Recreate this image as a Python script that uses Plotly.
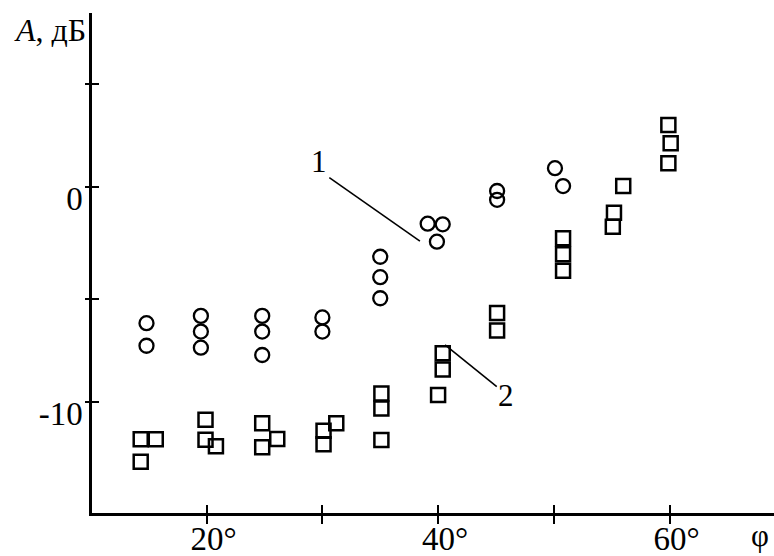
import plotly.graph_objects as go

# ---- data ----
# series 1 (circles)
phi_1 = [14.8, 14.8,
         19.5, 19.5, 19.5,
         24.8, 24.8, 24.8,
         30.0, 30.0,
         35.0, 35.0, 35.0,
         39.1, 40.4, 39.9,
         45.1, 45.1,
         50.1, 50.8]
A_1 = [-6.35, -7.40,
       -6.01, -6.74, -7.49,
       -6.01, -6.74, -7.83,
       -6.08, -6.74,
       -3.26, -4.21, -5.19,
       -1.72, -1.75, -2.56,
       -0.20, -0.61,
       0.86, 0.03]

# series 2 (squares)
phi_2 = [14.3, 15.6, 14.3,
         19.9, 19.9, 20.8,
         24.8, 26.1, 24.8,
         30.1, 31.2, 30.1,
         35.1, 35.1, 35.1,
         40.4, 40.4, 40.0,
         45.1, 45.1,
         50.8, 50.8, 50.8,
         55.2, 55.1, 56.0,
         59.9, 60.1, 59.9]
A_2 = [-11.75, -11.75, -12.80,
       -10.84, -11.77, -12.07,
       -11.00, -11.74, -12.12,
       -11.35, -11.00, -11.98,
       -9.62, -10.32, -11.78,
       -7.75, -8.50, -9.69,
       -5.88, -6.69,
       -2.40, -3.14, -3.91,
       -1.21, -1.86, 0.03,
       2.87, 2.02, 1.09]

x_tick_vals = [20, 30, 40, 50, 60]
x_tick_text = ["20°", "", "40°", "", "60°"]
y_tick_vals = [4.76, 0, -5.22, -10]
y_tick_text = ["", "0", "", "-10"]

x_range = [10.09, 69.03]
y_range = [-15.18, 8.08]

FONT = "Liberation Serif, Times New Roman, serif"

fig = go.Figure()
fig.add_trace(go.Scatter(
    x=phi_1, y=A_1, mode="markers",
    marker=dict(symbol="circle-open", size=14, color="black",
                line=dict(width=2.3, color="black")),
    showlegend=False, cliponaxis=False))
fig.add_trace(go.Scatter(
    x=phi_2, y=A_2, mode="markers",
    marker=dict(symbol="square-open", size=14, color="black",
                line=dict(width=2.5, color="black")),
    showlegend=False, cliponaxis=False))
# invisible trace to hold the overlay axes (outer halves of the tick crosses)
fig.add_trace(go.Scatter(x=[None], y=[None], xaxis="x2", yaxis="y2",
                         showlegend=False, hoverinfo="skip"))

# leader lines for the series labels
fig.add_shape(type="line", x0=30.6, y0=0.42, x1=38.43, y1=-2.53,
              line=dict(color="black", width=1.6))
fig.add_shape(type="line", x0=40.6, y0=-7.36, x1=45.07, y1=-9.3,
              line=dict(color="black", width=1.6))
fig.add_annotation(x=29.75, y=1.15, text="1", showarrow=False,
                   font=dict(family=FONT, size=31, color="black"))
fig.add_annotation(x=45.83, y=-9.73, text="2", showarrow=False,
                   font=dict(family=FONT, size=31, color="black"))

# axis titles
fig.add_annotation(xref="paper", yref="paper", x=-0.006, y=1.006,
                   xanchor="right", yanchor="top",
                   text="<i>A</i>, дБ", showarrow=False,
                   font=dict(family=FONT, size=32, color="black"))
fig.add_annotation(xref="paper", yref="paper", x=0.979, y=-0.084,
                   xanchor="center", yanchor="bottom",
                   text="φ", showarrow=False,
                   font=dict(family=FONT, size=31, color="black"))

axis_common = dict(showgrid=False, zeroline=False, linecolor="black",
                   tickcolor="black", tickwidth=2, automargin=False)

fig.update_layout(
    width=774, height=556,
    margin=dict(l=92, r=0, t=13, b=43, autoexpand=False),
    paper_bgcolor="white", plot_bgcolor="white",
    font=dict(family=FONT, size=33, color="black"),
    xaxis=dict(range=x_range, tickmode="array", tickvals=x_tick_vals,
               ticktext=x_tick_text, ticks="outside", ticklen=8,
               showline=True, linewidth=2.5, ticklabelshift=7,
               ticklabelstandoff=-13, **axis_common),
    yaxis=dict(range=y_range, tickmode="array", tickvals=y_tick_vals,
               ticktext=y_tick_text, ticks="inside", ticklen=7,
               showline=True, linewidth=2.5, ticklabelshift=12,
               ticklabelstandoff=0, **axis_common),
    xaxis2=dict(range=x_range, overlaying="x", anchor="y", side="bottom",
                tickmode="array", tickvals=x_tick_vals, ticks="inside",
                ticklen=8, showticklabels=False, showline=False,
                **axis_common),
    yaxis2=dict(range=y_range, overlaying="y", anchor="x", side="left",
                tickmode="array", tickvals=y_tick_vals, ticks="outside",
                ticklen=6, showticklabels=False, showline=False,
                **axis_common),
)

fig.write_html("out.html",
               config={"displayModeBar": False},
               post_script="document.body.style.margin='0';")
